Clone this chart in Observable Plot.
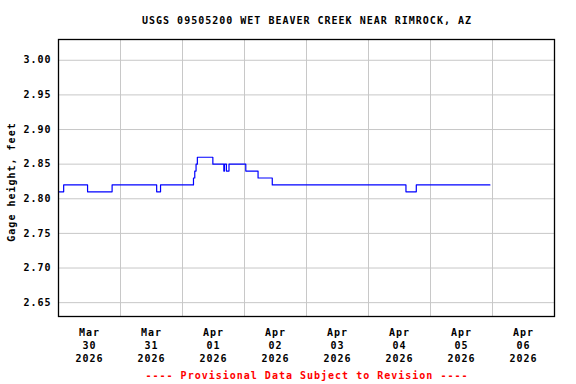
<!DOCTYPE html>
<html>
<head>
<meta charset="utf-8">
<script src="https://cdn.jsdelivr.net/npm/d3@7"></script>
<script src="https://cdn.jsdelivr.net/npm/@observablehq/plot@0.6"></script>
<style>
  html, body { margin: 0; padding: 0; background: #fff; }
  #wrap { width: 576px; font-family: "DejaVu Sans Mono", monospace; font-weight: bold; font-size: 10px; letter-spacing: 1px; }
  #title { height: 30px; position: relative; }
  #title span { position: absolute; left: 0; width: 614px; text-align: center; top: 15px; color: #000; }
  #foot { height: 18px; position: relative; color: #ff0000; }
  #foot span { position: absolute; left: 0; width: 614px; text-align: center; top: 4px; }
  svg { display: block; }
</style>
</head>
<body>
<div id="wrap">
  <div id="title"><span>USGS 09505200 WET BEAVER CREEK NEAR RIMROCK, AZ</span></div>
  <div id="chart"></div>
  <div id="foot"><span>---- Provisional Data Subject to Revision ----</span></div>
</div>
<script>
// Gage height readings (step changes)
const times = ["2026-03-30T00:00","2026-03-30T02:00","2026-03-30T11:15","2026-03-30T20:45",
  "2026-03-31T14:00","2026-03-31T15:30","2026-04-01T04:15","2026-04-01T04:45",
  "2026-04-01T05:15","2026-04-01T05:45","2026-04-01T11:45","2026-04-01T16:00",
  "2026-04-01T16:15","2026-04-01T17:00","2026-04-01T18:00","2026-04-02T00:30",
  "2026-04-02T05:15","2026-04-02T10:45","2026-04-04T14:30","2026-04-04T18:30",
  "2026-04-05T23:00"];
const heights = [2.81,2.82,2.81,2.82,2.81,2.82,2.83,2.84,2.85,2.86,2.85,2.84,2.85,2.84,2.85,2.84,2.83,2.82,2.81,2.82,2.82];

const yTicks = [2.65,2.70,2.75,2.80,2.85,2.90,2.95,3.00];
const dayLabels = [["Mar","30"],["Mar","31"],["Apr","01"],["Apr","02"],["Apr","03"],["Apr","04"],["Apr","05"],["Apr","06"]];
const dayStarts = ["2026-03-30","2026-03-31","2026-04-01","2026-04-02","2026-04-03","2026-04-04","2026-04-05","2026-04-06","2026-04-07"];
const yearLabel = "2026";
const yLabel = "Gage height, feet";

const parse = s => new Date(s + (s.length > 10 ? ":00Z" : "T00:00:00Z"));
const data = times.map((t, i) => ({date: parse(t), h: heights[i]}));
const midnights = dayStarts.map(parse);
const noons = dayStarts.slice(0, 8).map(s => new Date(parse(s).getTime() + 12 * 3600e3));
const labelFor = new Map(noons.map((d, i) => [d.getTime(), dayLabels[i][0] + "\n" + dayLabels[i][1] + "\n" + yearLabel]));

const chart = Plot.plot({
  width: 576,
  height: 336,
  marginLeft: 58,
  marginRight: 22,
  marginTop: 9,
  marginBottom: 50,
  style: {fontFamily: "'DejaVu Sans Mono', monospace", fontSize: "10px", fontWeight: "bold", letterSpacing: "1px", color: "#000", background: "#fff"},
  x: {type: "utc", domain: [midnights[0], midnights[8]]},
  y: {domain: [2.63, 3.03]},
  marks: [
    Plot.gridX(midnights.slice(1, 8), {stroke: "#c8c8c8", strokeOpacity: 1}),
    Plot.gridY(yTicks, {stroke: "#c8c8c8", strokeOpacity: 1}),
    Plot.axisY(yTicks, {tickSize: 0, tickPadding: 7, tickFormat: d => d.toFixed(2), label: null}),
    Plot.text([yLabel], {text: d => d, frameAnchor: "left", rotate: -90, dx: -47, dy: 4, textAnchor: "middle", fill: "#000"}),
    Plot.axisX(noons, {tickSize: 0, tickPadding: 10, tickFormat: d => labelFor.get(d.getTime()), lineHeight: 1.32, label: null}),
    Plot.line(data, {x: "date", y: "h", curve: "step-after", stroke: "#0000ff", strokeWidth: 1.2}),
    Plot.frame({stroke: "#000", strokeWidth: 1.3})
  ]
});
document.getElementById("chart").appendChild(chart);
</script>
</body>
</html>
